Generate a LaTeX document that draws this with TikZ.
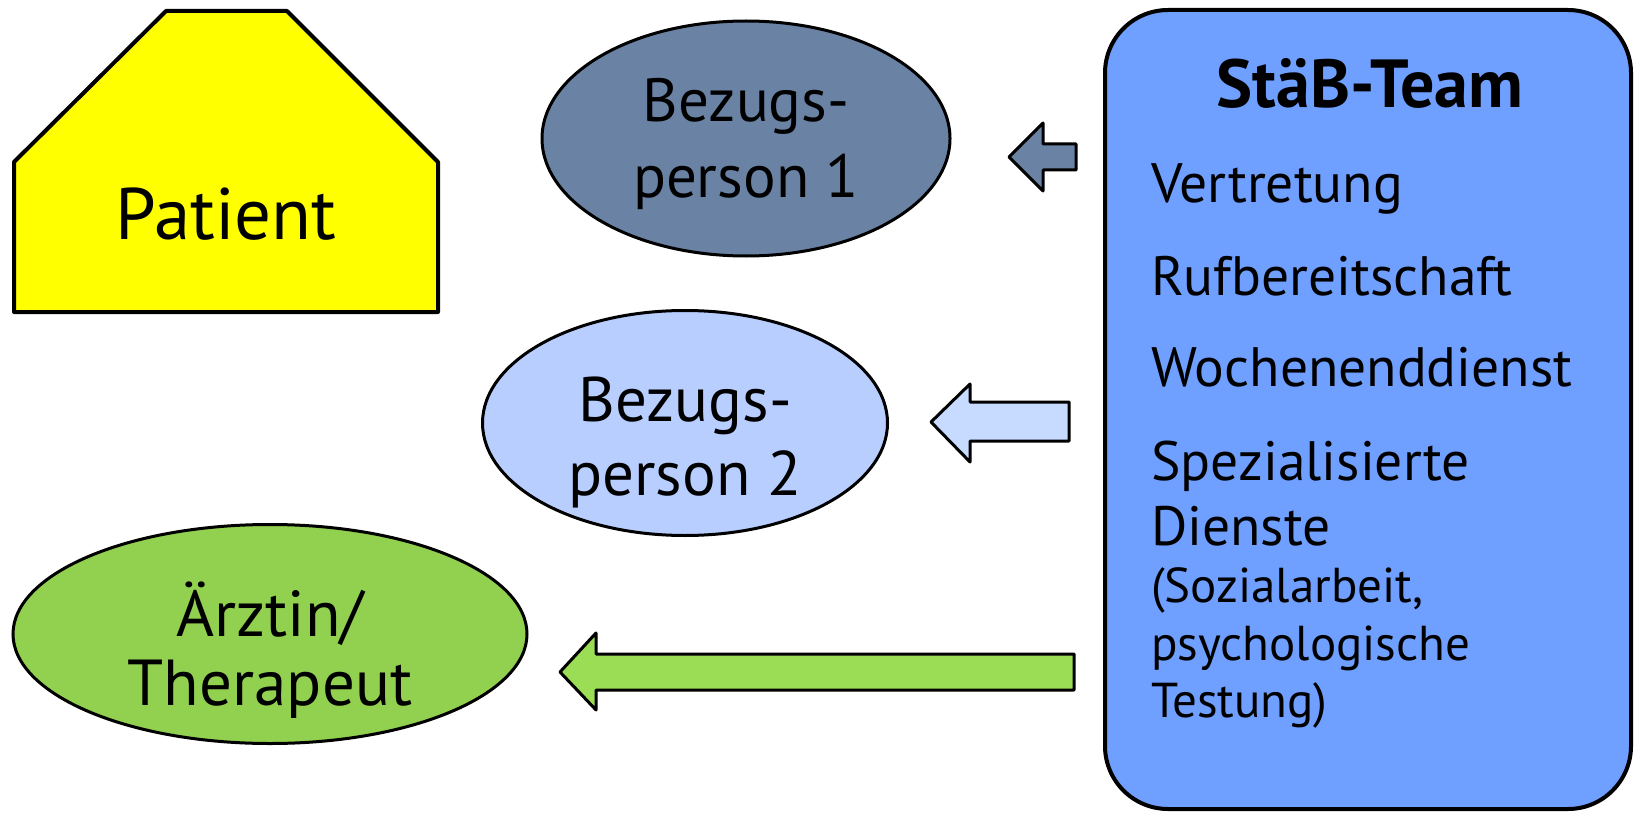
\documentclass[tikz,border=0pt]{standalone}
\usepackage{fontspec}
\setmainfont{PT Sans}
\usetikzlibrary{shapes.geometric}
\definecolor{patyellow}{RGB}{255,255,0}
\definecolor{slate}{RGB}{106,130,163}
\definecolor{lightblue}{RGB}{184,206,255}
\definecolor{arrowblue}{RGB}{198,219,255}
\definecolor{leafgreen}{RGB}{146,208,80}
\definecolor{arrowgreen}{RGB}{155,221,85}
\definecolor{teamblue}{RGB}{111,159,255}
\tikzset{
  oval/.style={ellipse, draw=black, line width=3pt, inner sep=0pt},
  ovaltext/.style={anchor=base, inner sep=0pt},
  blockarrow/.style={draw=black, line width=3pt, line join=round},
  itemtext/.style={anchor=base west, inner sep=0pt, font=\fontsize{55.5}{55}\selectfont},
  smalltext/.style={anchor=base west, inner sep=0pt, font=\fontsize{49}{49}\selectfont}
}
\begin{document}
\begin{tikzpicture}[x=1pt,y=-1pt]
\useasboundingbox (0,0) rectangle (1635,813);
% Patient
\coordinate (p1) at (14,312);
\coordinate (p2) at (14,162);
\coordinate (p3) at (166,11);
\coordinate (p4) at (287,11);
\coordinate (p5) at (438,162);
\coordinate (p6) at (438,312);
\draw[fill=patyellow, line width=4pt, line join=round] (p1) -- (p2) -- (p3) -- (p4) -- (p5) -- (p6) -- cycle;
\node[inner sep=0pt, anchor=base, font=\fontsize{73}{73}\selectfont] (patient) at (226,239) {Patient};
% Ellipses
\node[oval, fill=slate, minimum width=408pt, minimum height=235pt] (bp1) at (746,138.5) {};
\node[ovaltext, font=\fontsize{61}{61}\selectfont] (bp1a) at (746,122) {Bezugs-};
\node[ovaltext, font=\fontsize{61}{61}\selectfont] (bp1b) at (746,198) {person 1};
\node[oval, fill=lightblue, minimum width=405pt, minimum height=225pt] (bp2) at (685,423) {};
\node[ovaltext, font=\fontsize{63}{63}\selectfont] (bp2a) at (685,421) {Bezugs-};
\node[ovaltext, font=\fontsize{63}{63}\selectfont] (bp2b) at (685,495) {person 2};
\node[oval, fill=leafgreen, minimum width=514pt, minimum height=219pt] (arzt) at (270,634) {};
\node[ovaltext, font=\fontsize{65}{65}\selectfont] (arzta) at (270,636) {Ärztin/};
\node[ovaltext, font=\fontsize{65}{65}\selectfont] (arztb) at (270,705) {Therapeut};
% Team box
\node[draw=black, line width=4pt, fill=teamblue, rounded corners=63pt, minimum width=526pt, minimum height=799pt, inner sep=0pt] (team) at (1368,409.5) {};
\node[anchor=base, inner sep=0pt, font=\bfseries\fontsize{68}{68}\selectfont] (title) at (1370,108) {StäB-Team};
\node[itemtext] (i1) at (1151,203) {Vertretung};
\node[itemtext] (i2) at (1151,295) {Rufbereitschaft};
\node[itemtext] (i3) at (1151,386) {Wochenenddienst};
\node[itemtext] (i4) at (1151,480) {Spezialisierte};
\node[itemtext] (i5) at (1151,545) {Dienste};
\node[smalltext] (i6) at (1151,602) {(Sozialarbeit,};
\node[smalltext] (i7) at (1151,660) {psychologische};
\node[smalltext] (i8) at (1151,717) {Testung)};
% Block arrows
\coordinate (a1tip) at (1009,157);
\draw[blockarrow, fill=slate] (a1tip) -- (1043,123) -- (1043,144) -- (1076,144) -- (1076,170) -- (1043,170) -- (1043,191) -- cycle;
\coordinate (a2tip) at (931,422);
\draw[blockarrow, fill=arrowblue] (a2tip) -- (970,384) -- (970,402) -- (1069,402) -- (1069,441) -- (970,441) -- (970,462) -- cycle;
\coordinate (a3tip) at (560,672);
\draw[blockarrow, fill=arrowgreen] (a3tip) -- (596,633) -- (596,654) -- (1074,654) -- (1074,690) -- (596,690) -- (596,710) -- cycle;
\end{tikzpicture}
\end{document}
